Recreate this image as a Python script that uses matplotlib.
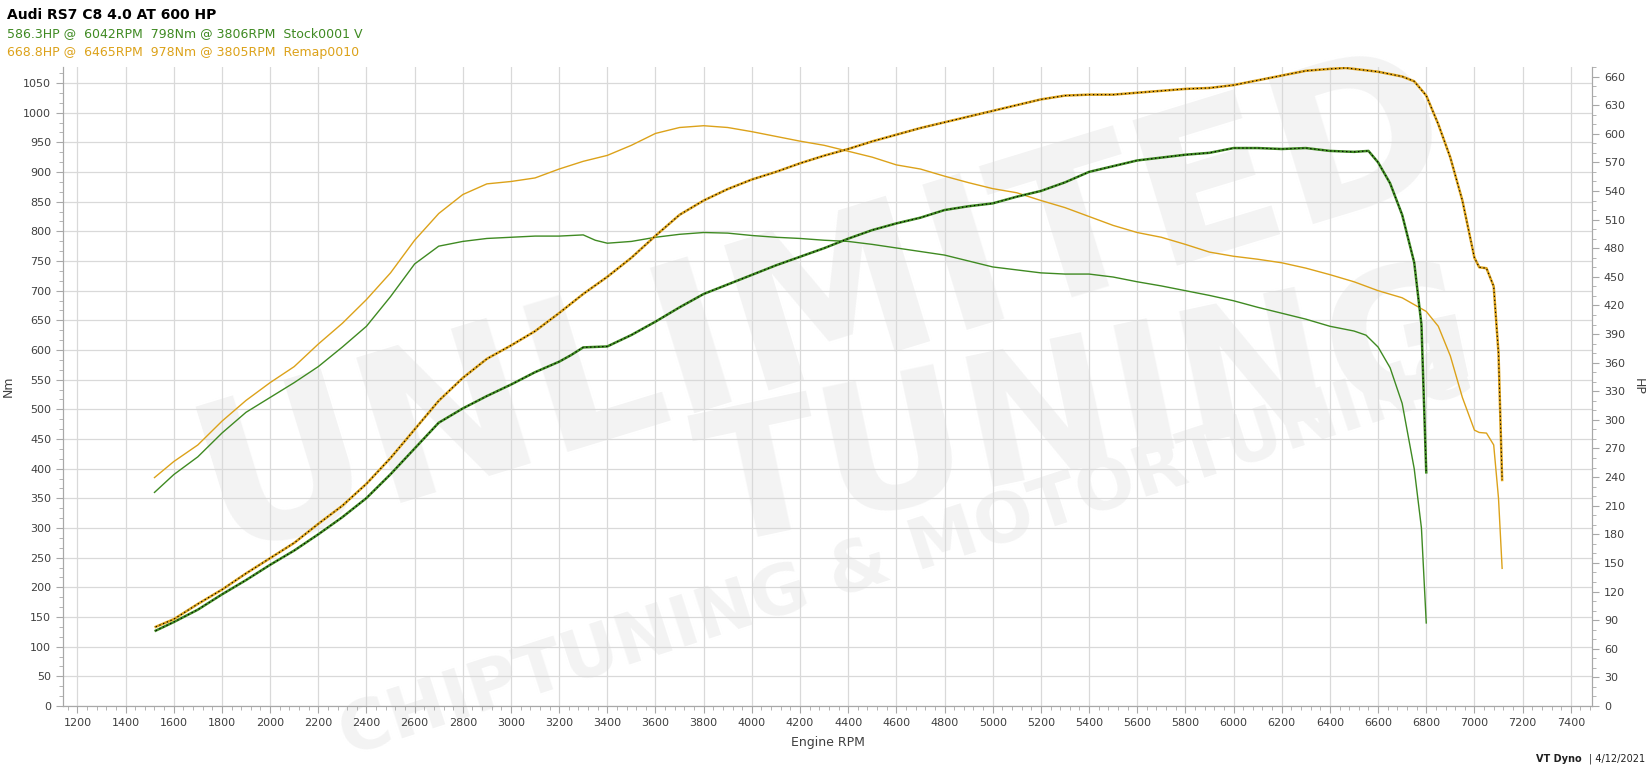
import matplotlib.pyplot as plt
from matplotlib.ticker import MultipleLocator

GREEN = '#3f8a22'
ORANGE = '#dca21a'

# Stock torque (Nm)
stock_nm_rpm = [1520, 1600, 1700, 1800, 1900, 2000, 2100, 2200, 2300, 2400, 2500, 2600, 2700,
                2800, 2900, 3000, 3100, 3200, 3300, 3350, 3400, 3500, 3600, 3700, 3800, 3900,
                4000, 4100, 4200, 4300, 4400, 4500, 4600, 4700, 4800, 4900, 5000, 5100, 5200,
                5300, 5400, 5500, 5600, 5700, 5800, 5900, 6000, 6100, 6200, 6300, 6400, 6500,
                6550, 6600, 6650, 6700, 6750, 6780, 6800]
stock_nm = [360, 390, 420, 460, 495, 520, 545, 572, 605, 640, 690, 745, 775,
            783, 788, 790, 792, 792, 794, 785, 780, 783, 790, 795, 798, 797,
            793, 790, 788, 785, 783, 778, 772, 766, 760, 750, 740, 735, 730,
            728, 728, 723, 715, 708, 700, 692, 683, 672, 662, 652, 640, 632,
            625, 605, 570, 510, 400, 300, 140]

# Stock power (HP)
stock_hp_rpm = [1525, 1600, 1700, 1800, 1900, 2000, 2100, 2200, 2300, 2400, 2500, 2600, 2700,
                2800, 2900, 3000, 3100, 3200, 3250, 3300, 3400, 3500, 3600, 3700, 3800, 3900,
                4000, 4100, 4200, 4300, 4400, 4500, 4600, 4700, 4800, 4900, 5000, 5100, 5200,
                5300, 5400, 5500, 5600, 5700, 5800, 5900, 6000, 6100, 6200, 6300, 6400, 6500,
                6560, 6600, 6650, 6700, 6750, 6780, 6800]
stock_hp = [79, 88, 101, 117, 132, 148, 163, 180, 198, 218, 243, 270, 297,
            312, 325, 337, 350, 361, 368, 376, 377, 389, 403, 418, 432, 442,
            452, 462, 471, 480, 490, 499, 506, 512, 520, 524, 527, 534, 540,
            549, 560, 566, 572, 575, 578, 580, 585, 585, 584, 585, 582, 581,
            582, 570, 548, 515, 465, 400, 245]

# Remap torque (Nm)
remap_nm_rpm = [1520, 1600, 1700, 1800, 1900, 2000, 2100, 2200, 2300, 2400, 2500, 2600, 2700,
                2800, 2900, 3000, 3100, 3200, 3300, 3400, 3500, 3600, 3700, 3800, 3900, 4000,
                4100, 4200, 4300, 4400, 4500, 4600, 4700, 4800, 4900, 5000, 5100, 5200, 5300,
                5400, 5500, 5600, 5700, 5800, 5900, 6000, 6100, 6200, 6300, 6400, 6500, 6600,
                6700, 6800, 6850, 6900, 6950, 7000, 7020, 7050, 7080, 7100, 7115]
remap_nm = [385, 412, 440, 480, 515, 545, 572, 610, 645, 685, 730, 785, 830,
            862, 880, 884, 890, 905, 918, 928, 945, 965, 975, 978, 975, 968,
            960, 952, 945, 935, 925, 912, 905, 893, 882, 872, 865, 852, 840,
            825, 810, 798, 790, 778, 765, 758, 753, 747, 738, 727, 715, 700,
            688, 665, 640, 590, 520, 465, 461, 460, 440, 350, 232]

# Remap power (HP)
remap_hp_rpm = [1525, 1600, 1700, 1800, 1900, 2000, 2100, 2200, 2300, 2400, 2500, 2600, 2700,
                2800, 2900, 3000, 3100, 3200, 3300, 3400, 3500, 3600, 3700, 3800, 3900, 4000,
                4100, 4200, 4300, 4400, 4500, 4600, 4700, 4800, 4900, 5000, 5100, 5200, 5300,
                5400, 5500, 5600, 5700, 5800, 5900, 6000, 6100, 6200, 6300, 6400, 6465, 6500,
                6600, 6700, 6750, 6800, 6850, 6900, 6950, 7000, 7020, 7050, 7080, 7100, 7115]
remap_hp = [83, 91, 107, 122, 139, 155, 171, 191, 210, 233, 260, 290, 320,
            344, 364, 378, 393, 412, 432, 450, 470, 493, 515, 530, 542, 552,
            560, 569, 577, 584, 592, 599, 606, 612, 618, 624, 630, 636, 640,
            641, 641, 643, 645, 647, 648, 651, 656, 661, 666, 668, 669, 668,
            665, 660, 655, 640, 610, 575, 530, 470, 460, 459, 440, 370, 237]

fig = plt.figure(figsize=(16.48, 7.69), dpi=100)

# faint watermark on a background axes
bg = fig.add_axes([0, 0, 1, 1], zorder=-1)
bg.axis('off')
wm = '#f3f3f3'
bg.text(0.50, 0.60, 'UNLIMITED', fontsize=150, fontweight='bold', color=wm,
        rotation=17, ha='center', va='center')
bg.text(0.66, 0.46, 'TUNING', fontsize=130, fontweight='bold', color=wm,
        rotation=12, ha='center', va='center')
bg.text(0.55, 0.28, 'CHIPTUNING & MOTORTUNING', fontsize=50, fontweight='bold', color=wm,
        rotation=18, ha='center', va='center')

ax = fig.add_axes([0.0382, 0.0819, 0.9278, 0.831])
ax.patch.set_alpha(0)
ax2 = ax.twinx()
ax2.patch.set_alpha(0)

ax.plot(stock_nm_rpm, stock_nm, color=GREEN, lw=1.0)
ax.plot(remap_nm_rpm, remap_nm, color=ORANGE, lw=1.0)

for r, v, c in [(stock_hp_rpm, stock_hp, GREEN), (remap_hp_rpm, remap_hp, ORANGE)]:
    ax2.plot(r, v, color=c, lw=1.8)
    ax2.plot(r, v, color='black', lw=0.8, dashes=(1.2, 2.4))

ax.set_xlim(1140, 7488)
ax.set_ylim(0, 1077)
ax2.set_ylim(0, 670)

ax.xaxis.set_major_locator(MultipleLocator(200))
ax.xaxis.set_minor_locator(MultipleLocator(40))
ax.yaxis.set_major_locator(MultipleLocator(50))
ax.yaxis.set_minor_locator(MultipleLocator(50 / 3))
ax2.yaxis.set_major_locator(MultipleLocator(30))
ax2.yaxis.set_minor_locator(MultipleLocator(10))

ax.grid(True, which='major', color='#d9d9d9', lw=0.9)
ax.set_axisbelow(True)

spine_c = '#a8a8a8'
for a in (ax, ax2):
    a.spines['top'].set_visible(False)
    for s in ('left', 'right', 'bottom'):
        a.spines[s].set_color(spine_c)
    a.tick_params(which='major', length=5, color=spine_c, labelsize=8, labelcolor='#404040')
    a.tick_params(which='minor', length=3, color=spine_c)

ax.set_xlabel('Engine RPM', fontsize=9, color='#404040', labelpad=6)
ax.set_ylabel('Nm', fontsize=9, color='#404040', labelpad=6)
ax2.set_ylabel('HP', fontsize=9, color='#404040', rotation=270, labelpad=14)

fig.text(0.004, 0.981, 'Audi RS7 C8 4.0 AT 600 HP', fontsize=10, fontweight='bold',
         color='black', va='center')
fig.text(0.004, 0.957, '586.3HP @  6042RPM  798Nm @ 3806RPM  Stock0001 V', fontsize=9,
         color=GREEN, va='center')
fig.text(0.004, 0.932, '668.8HP @  6465RPM  978Nm @ 3805RPM  Remap0010', fontsize=9,
         color=ORANGE, va='center')

fig.text(0.960, 0.013, 'VT Dyno', fontsize=7, fontweight='bold', ha='right', va='center',
         color='#202020')
fig.text(0.998, 0.013, '| 4/12/2021', fontsize=7, ha='right', va='center', color='#202020')

fig.savefig('out.png', dpi=100)
